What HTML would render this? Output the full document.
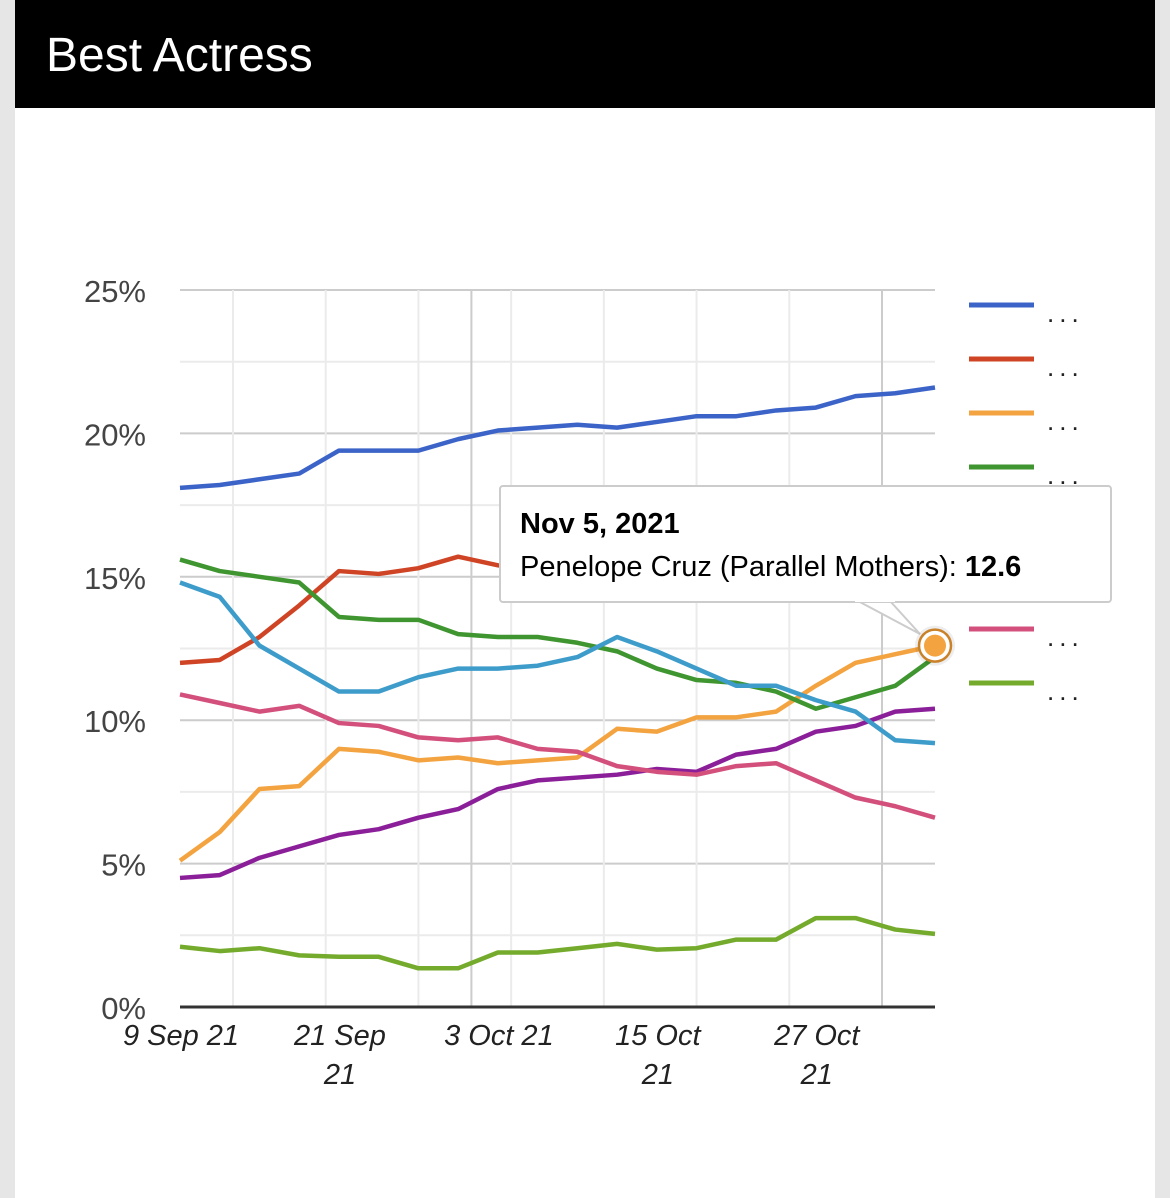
<!DOCTYPE html>
<html><head><meta charset="utf-8"><style>
html,body{margin:0;padding:0;width:1170px;height:1198px;background:#e6e6e6;overflow:hidden;font-family:"Liberation Sans",sans-serif}
#panel{position:absolute;left:15px;top:0;width:1140px;height:1198px;background:#fff}
#title{position:absolute;left:15px;top:0;width:1140px;height:108px;background:#000;color:#fff;font-size:48px;line-height:112px;box-sizing:border-box;padding-left:31px}
svg{position:absolute;left:0;top:0}
</style></head><body>
<div id="panel"></div>
<div id="title">Best Actress</div>
<svg id="chart" width="1170" height="1198"></svg>
<script>
const dates = ["Sep 9","Sep 12","Sep 15","Sep 18","Sep 21","Sep 24","Sep 27","Sep 30","Oct 3","Oct 6","Oct 9","Oct 12","Oct 15","Oct 18","Oct 21","Oct 24","Oct 27","Oct 30","Nov 2","Nov 5"];
const blueVals = [18.1,18.2,18.4,18.6,19.4,19.4,19.4,19.8,20.1,20.2,20.3,20.2,20.4,20.6,20.6,20.8,20.9,21.3,21.4,21.6];
const redVals = [12.0,12.1,12.9,14.0,15.2,15.1,15.3,15.7,15.4,15.2,15.0,15.1,15.0,14.9,14.9,15.0,15.1,15.2,15.3,15.4];
const orangeVals = [5.1,6.1,7.6,7.7,9.0,8.9,8.6,8.7,8.5,8.6,8.7,9.7,9.6,10.1,10.1,10.3,11.2,12.0,12.3,12.6];
const greenVals = [15.6,15.2,15.0,14.8,13.6,13.5,13.5,13.0,12.9,12.9,12.7,12.4,11.8,11.4,11.3,11.0,10.4,10.8,11.2,12.2];
const purpleVals = [4.5,4.6,5.2,5.6,6.0,6.2,6.6,6.9,7.6,7.9,8.0,8.1,8.3,8.2,8.8,9.0,9.6,9.8,10.3,10.4];
const tealVals = [14.8,14.3,12.6,11.8,11.0,11.0,11.5,11.8,11.8,11.9,12.2,12.9,12.4,11.8,11.2,11.2,10.7,10.3,9.3,9.2];
const pinkVals = [10.9,10.6,10.3,10.5,9.9,9.8,9.4,9.3,9.4,9.0,8.9,8.4,8.2,8.1,8.4,8.5,7.9,7.3,7.0,6.6];
const limeVals = [2.1,1.95,2.05,1.8,1.75,1.75,1.35,1.35,1.9,1.9,2.05,2.2,2.0,2.05,2.35,2.35,3.1,3.1,2.7,2.55];
const yTicks = [0,5,10,15,20,25];
const xTickLabels = [["9 Sep 21"],["21 Sep","21"],["3 Oct 21"],["15 Oct","21"],["27 Oct","21"]];
const xTickDays = [0,12,24,36,48];
const weekGridDays = [4,11,18,25,32,39,46];
const monthGridDays = [22,53];

const NS="http://www.w3.org/2000/svg", svg=document.getElementById('chart');
const X0=180,X1=935,Y0=1007,Y1=290,DAYS=57,YMAX=25;
const xDay=d=>X0+d*(X1-X0)/DAYS, xIdx=i=>xDay(i*3), y=v=>Y0-v*(Y0-Y1)/YMAX;
function mk(t,a,p){const e=document.createElementNS(NS,t);for(const k in a)e.setAttribute(k,a[k]);(p||svg).appendChild(e);return e;}

for(let v=2.5;v<=25;v+=2.5){const major=Math.abs(v%5)<1e-9;
 const l=mk('line',{x1:X0,x2:X1,y1:y(v),y2:y(v),stroke:major?'#cccccc':'#ebebeb','stroke-width':2});
 
 }
weekGridDays.forEach(d=>{const l=mk('line',{x1:xDay(d),x2:xDay(d),y1:Y1,y2:Y0,stroke:'#ebebeb','stroke-width':2});
 
 });
monthGridDays.forEach(d=>{const l=mk('line',{x1:xDay(d),x2:xDay(d),y1:Y1,y2:Y0,stroke:'#cccccc','stroke-width':2});
 
 });
yTicks.forEach(v=>{const t=mk('text',{x:146,y:y(v)+12,'text-anchor':'end','font-size':31,fill:'#444'});t.textContent=v+'%';
 
 });
xTickLabels.forEach((ls,i)=>{ls.forEach((s,j)=>{const t=mk('text',{x:xDay(xTickDays[i])+1,y:1045+j*39,'text-anchor':'middle','font-size':29,'font-style':'italic',fill:'#222'});t.textContent=s;
 
 });});

const series=[["series-blue",blueVals,"#3c64c8"],["series-red",redVals,"#cf4425"],["series-orange",orangeVals,"#f3a340"],["series-green",greenVals,"#3f952f"],["series-purple",purpleVals,"#8b1f99"],["series-teal",tealVals,"#3e9ccb"],["series-pink",pinkVals,"#d3507c"],["series-lime",limeVals,"#74ab2c"]];
series.forEach(([n,vals,c])=>{const p=mk('polyline',{points:vals.map((v,i)=>xIdx(i)+','+y(v)).join(' '),fill:'none',stroke:c,'stroke-width':4.5,'stroke-linejoin':'round'});
 
 });
const base=mk('line',{x1:X0,x2:X1,y1:Y0,y2:Y0,stroke:'#333','stroke-width':3});



series.forEach(([n,vals,c],i)=>{const g=mk('g',{});
 
 
 mk('line',{x1:969,x2:1034,y1:305+i*54,y2:305+i*54,stroke:c,'stroke-width':5},g);
 const t=mk('text',{x:1047,y:322+i*54,'font-size':26,fill:'#222','letter-spacing':5},g);t.textContent='...';});

// tooltip
const tip=mk('g',{});


mk('path',{d:'M858 601 L920 634 L890 601 Z',fill:'#fff',stroke:'#ccc','stroke-width':2},tip);
mk('rect',{x:500,y:486,width:611,height:116,rx:3,fill:'#fff',stroke:'#ccc','stroke-width':2},tip);
mk('rect',{x:855,y:596,width:40,height:6,fill:'#fff'},tip);
const t1=mk('text',{x:520,y:533,'font-size':29,'font-weight':'bold',fill:'#000'},tip);t1.textContent='Nov 5, 2021';
const t2=mk('text',{x:520,y:576,'font-size':29,fill:'#000'},tip);t2.innerHTML='Penelope Cruz (Parallel Mothers): <tspan font-weight="bold">12.6</tspan>';
const px=xIdx(19),py=y(orangeVals[19]);
mk('circle',{cx:px,cy:py,r:20,fill:'rgba(0,0,0,0.07)'},tip);
mk('circle',{cx:px,cy:py,r:16,fill:'#fff',stroke:'#c9822a','stroke-width':2.5},tip);
const dot=mk('circle',{cx:px,cy:py,r:11,fill:'#f3a340'},tip);


</script>
</body></html>
